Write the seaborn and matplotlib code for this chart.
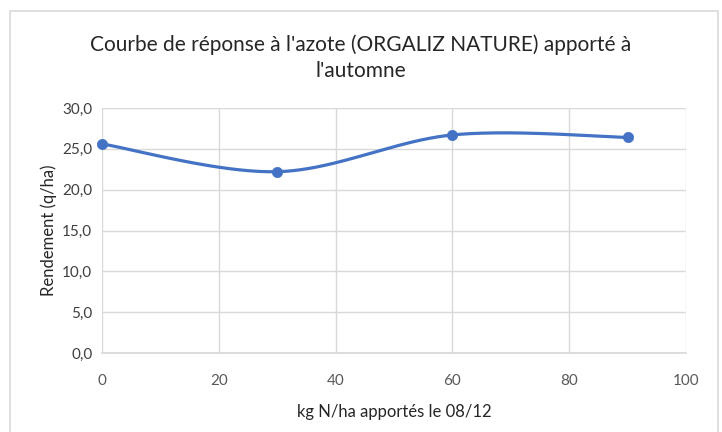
import numpy as np
import matplotlib
matplotlib.use("Agg")
import matplotlib.pyplot as plt
import seaborn as sns
import pandas as pd
from matplotlib.patches import Rectangle

doses = [0, 30, 60, 90]
rendement = [25.6, 22.2, 26.7, 26.4]
title = "Courbe de réponse à l'azote (ORGALIZ NATURE) apporté à\nl'automne"
xlabel = "kg N/ha apportés le 08/12"
ylabel = "Rendement (q/ha)"
yticks = [0, 5, 10, 15, 20, 25, 30]
xticks = [0, 20, 40, 60, 80, 100]

sns.set_theme(style="white")
plt.rcParams['font.family'] = ['Lato', 'DejaVu Sans']

df = pd.DataFrame({"x": doses, "y": rendement})

def excel_smooth(xs, ys, n=60):
    P = np.column_stack([xs, ys]).astype(float)
    out = []
    for i in range(len(P) - 1):
        p0 = P[i - 1] if i > 0 else P[i]
        p1 = P[i]
        p2 = P[i + 1]
        p3 = P[i + 2] if i + 2 < len(P) else P[i + 1]
        c1 = p1 + (p2 - p0) / 6
        c2 = p2 - (p3 - p1) / 6
        t = np.linspace(0, 1, n)[:, None]
        seg = ((1 - t) ** 3) * p1 + 3 * ((1 - t) ** 2) * t * c1 + 3 * (1 - t) * t ** 2 * c2 + t ** 3 * p2
        out.append(seg if i == 0 else seg[1:])
    return np.vstack(out)

fig = plt.figure(figsize=(7.22, 4.32), dpi=100)
fig.patches.append(Rectangle((10 / 722, -5 / 432), 708 / 722, 426 / 432, transform=fig.transFigure,
                             fill=False, edgecolor="#D9D9D9", linewidth=1.2))
ax = fig.add_axes([102 / 722, 79 / 432, 584 / 722, 245 / 432])

curve = excel_smooth(doses, rendement)
ax.plot(curve[:, 0], curve[:, 1], color="#4472C4", linewidth=2.3, solid_capstyle="round", zorder=3)
sns.scatterplot(data=df, x="x", y="y", ax=ax, color="#4472C4", s=55, edgecolor="#4472C4",
                linewidth=0.5, zorder=4, legend=False, clip_on=False)

ax.set_xlim(0, 100)
ax.set_ylim(0, 30)
ax.set_xticks(xticks)
ax.set_yticks(yticks)
ax.set_xticklabels([str(v) for v in xticks])
ax.set_yticklabels([f"{v:.1f}".replace(".", ",") for v in yticks])
ax.tick_params(axis="both", length=0, labelsize=11, colors="#595959")
ax.tick_params(axis="x", pad=15)
ax.tick_params(axis="y", colors="#404040", pad=7)
ax.grid(True, color="#D9D9D9", linewidth=1)
ax.set_axisbelow(True)
for s in ["top", "right", "left"]:
    ax.spines[s].set_visible(False)
ax.spines["bottom"].set_color("#D9D9D9")
ax.set_xlabel(xlabel, fontsize=12, color="#262626", labelpad=12)
ax.set_ylabel(ylabel, fontsize=12, color="#262626", labelpad=4)
fig.text(0.5, 1 - 58 / 432, title, ha="center", va="center", fontsize=15, color="#262626", linespacing=1.35)

fig.savefig("out.png", dpi=100)
